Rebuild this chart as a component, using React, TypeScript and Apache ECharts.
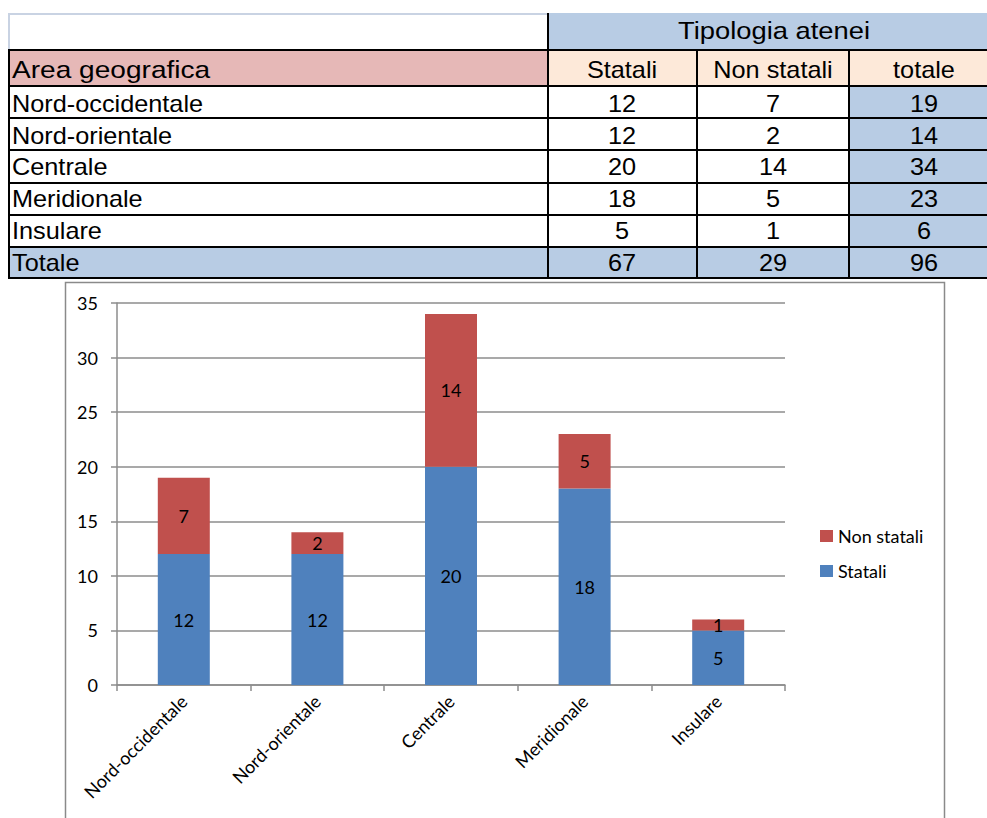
import React, { useEffect, useRef } from "react";
import * as echarts from "echarts";

// Atenei per area geografica e tipologia
const areas = ["Nord-occidentale", "Nord-orientale", "Centrale", "Meridionale", "Insulare"];
const statali = [12, 12, 20, 18, 5];
const nonStatali = [7, 2, 14, 5, 1];
const totali = [19, 14, 34, 23, 6];
const totaleRow = [67, 29, 96];
const tableTitle = "Tipologia atenei";
const rowHeader = "Area geografica";
const columnHeaders = ["Statali", "Non statali", "totale"];
const totalLabel = "Totale";
const seriesNames = ["Statali", "Non statali"];

const BLUE = "#4F81BD";
const RED = "#C0504D";
const CELL_BLUE = "#B8CCE4";
const CELL_PINK = "#E6B8B7";
const CELL_PEACH = "#FDE9D9";
const TABLE_FONT = '"Liberation Sans", Arial, sans-serif';
const CHART_FONT = 'Lato, "Open Sans", sans-serif';

// table layout (pixels)
const rowLines = [50, 86, 118, 150, 183, 215, 247, 278];
const rowTextY = [104, 136, 167, 199, 231, 263];
const colLines = [548, 697, 849];
const colCenters = [622, 773, 924];
const tableLeft = 8;
const tableRight = 987;

function txt(text: string, x: number, y: number, align: string, size = 23, sx = 1.1) {
  return {
    type: "text",
    x,
    y,
    scaleX: sx,
    z: 20,
    style: {
      text,
      font: `${size}px ${TABLE_FONT}`,
      fill: "#000",
      textAlign: align,
      align,
      textVerticalAlign: "middle",
      verticalAlign: "middle",
    },
  };
}

function hline(y: number, x1: number, x2: number, color = "#000", w = 2) {
  return { type: "line", z: 15, shape: { x1, y1: y, x2, y2: y }, style: { stroke: color, lineWidth: w } };
}
function vline(x: number, y1: number, y2: number, color = "#000", w = 2) {
  return { type: "line", z: 15, shape: { x1: x, y1, x2: x, y2 }, style: { stroke: color, lineWidth: w } };
}
function fillRect(x: number, y: number, w: number, h: number, fill: string) {
  return { type: "rect", z: 10, shape: { x, y, width: w, height: h }, style: { fill } };
}

function buildTable() {
  const els: any[] = [];
  // fills
  els.push(fillRect(548, 13, tableRight - 548, 50 - 13, CELL_BLUE));
  els.push(fillRect(tableLeft, 50, 548 - tableLeft, 36, CELL_PINK));
  els.push(fillRect(548, 50, tableRight - 548, 36, CELL_PEACH));
  els.push(fillRect(849, 86, tableRight - 849, 247 - 86, CELL_BLUE));
  els.push(fillRect(tableLeft, 247, tableRight - tableLeft, 278 - 247, CELL_BLUE));
  // light sheet gridlines around the empty corner cell
  els.push(hline(14, tableLeft, 548, "#C9D3E3", 2));
  els.push(vline(tableLeft + 1, 14, 50, "#C9D3E3", 2));
  // black borders
  rowLines.forEach((y) => els.push(hline(y, tableLeft, tableRight)));
  els.push(vline(tableLeft + 1, 50, 278));
  els.push(vline(colLines[0], 13, 279));
  els.push(vline(colLines[1], 50, 279));
  els.push(vline(colLines[2], 50, 279));
  // header texts
  els.push(txt(tableTitle, 774, 31, "center", 24, 1.14));
  els.push(txt(rowHeader, 12, 70, "left", 24, 1.17));
  columnHeaders.forEach((h, i) => els.push(txt(h, colCenters[i], 70, "center", 23)));
  // body
  areas.forEach((a, r) => {
    const y = rowTextY[r];
    els.push(txt(a, 12, y, "left"));
    els.push(txt(String(statali[r]), colCenters[0], y, "center"));
    els.push(txt(String(nonStatali[r]), colCenters[1], y, "center"));
    els.push(txt(String(totali[r]), colCenters[2], y, "center"));
  });
  const ty = rowTextY[5];
  els.push(txt(totalLabel, 12, ty, "left"));
  totaleRow.forEach((v, i) => els.push(txt(String(v), colCenters[i], ty, "center")));
  // chart frame
  els.push({
    type: "rect",
    z: 5,
    shape: { x: 65.5, y: 282.5, width: 879, height: 600 },
    style: { fill: "none", stroke: "#8A8A8A", lineWidth: 1.5 },
  });
  return els;
}

const axisGray = "#8C8C8C";
const labelStyle = { fontFamily: CHART_FONT, fontSize: 18, color: "#000" };

export default function App() {
  const ref = useRef<HTMLDivElement>(null);
  useEffect(() => {
    const chart = echarts.init(ref.current!, null, { renderer: "svg" });
    chart.setOption({
      animation: false,
      backgroundColor: "#fff",
      graphic: { elements: buildTable() },
      grid: { left: 117, right: 987 - 785, top: 303, bottom: 818 - 685, containLabel: false },
      legend: {
        orient: "vertical",
        left: 815,
        top: 521,
        itemWidth: 13,
        itemHeight: 12,
        itemGap: 15,
        icon: "rect",
        data: [seriesNames[1], seriesNames[0]],
        textStyle: { ...labelStyle, lineHeight: 20 },
      },
      xAxis: {
        type: "category",
        data: areas,
        axisLine: { lineStyle: { color: axisGray, width: 1.5 } },
        axisTick: { show: true, length: 6, lineStyle: { color: axisGray, width: 1.5 } },
        axisLabel: { ...labelStyle, rotate: 45, margin: 13, interval: 0 },
      },
      yAxis: {
        type: "value",
        min: 0,
        max: 35,
        interval: 5,
        axisLine: { show: true, lineStyle: { color: axisGray, width: 1.5 } },
        axisTick: { show: true, length: 6, lineStyle: { color: axisGray, width: 1.5 } },
        axisLabel: { ...labelStyle, margin: 19 },
        splitLine: { lineStyle: { color: axisGray, width: 1.5 } },
      },
      series: [
        {
          name: seriesNames[0],
          type: "bar",
          stack: "tot",
          barWidth: 52,
          data: statali,
          itemStyle: { color: BLUE },
          label: { show: true, position: "inside", ...labelStyle },
        },
        {
          name: seriesNames[1],
          type: "bar",
          stack: "tot",
          barWidth: 52,
          data: nonStatali,
          itemStyle: { color: RED },
          label: { show: true, position: "inside", ...labelStyle },
        },
      ],
    });
    return () => chart.dispose();
  }, []);
  return (
    <div
      ref={ref}
      style={{ position: "fixed", left: 0, top: 0, width: 987, height: 818, background: "#fff" }}
    />
  );
}
